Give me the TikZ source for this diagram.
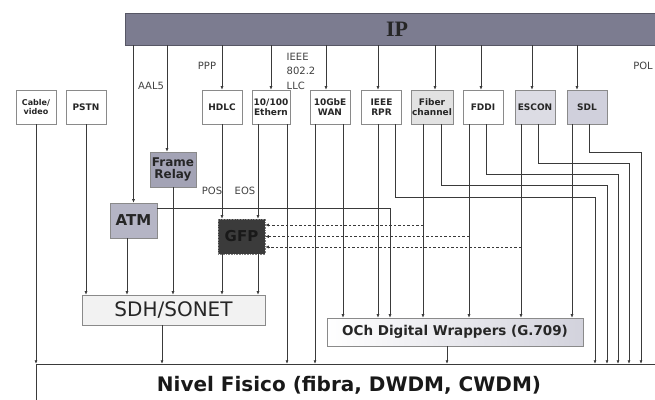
\documentclass[tikz,border=0pt]{standalone}
\usepackage{fontspec}
\setmainfont{DejaVu Sans}
\newfontfamily\ipfont{Liberation Serif}
\usetikzlibrary{arrows.meta}
\definecolor{ipc}{HTML}{7C7C90}
\definecolor{linec}{HTML}{3A3A3A}
\definecolor{boxc}{HTML}{8A8A8A}
\definecolor{frc}{HTML}{A3A3B5}
\definecolor{atmc}{HTML}{B5B5C5}
\definecolor{gfpc}{HTML}{3B3B3B}
\definecolor{fibc}{HTML}{E2E2E2}
\definecolor{escc}{HTML}{DCDCE4}
\definecolor{sdlc}{HTML}{D0D0DC}
\definecolor{sdhc}{HTML}{F2F2F2}
\definecolor{ochc}{HTML}{D2D2DC}
\tikzset{
  link/.style={draw=linec, line width=0.6pt},
  arr/.style={link, -{Latex[length=3.5pt,width=3pt]}},
  dsh/.style={arr, dash pattern=on 2.5pt off 2pt},
  blk/.style={draw=boxc, line width=0.6pt, fill=white, minimum width=40pt, minimum height=34pt, inner sep=1pt, align=center, text=black!85, font=\bfseries\fontsize{9}{10.5}\selectfont},
  lbl/.style={inner sep=0pt, text=black!75, font=\fontsize{10}{11}\selectfont},
}

\begin{document}
\begin{tikzpicture}[x=1pt,y=-1pt]
\useasboundingbox (0,0) rectangle (655,399);
\node[fill=ipc, draw=ipc!70!black, line width=0.6pt, minimum width=530pt, minimum height=32pt, text=black!85, font=\ipfont\bfseries\fontsize{22}{24}\selectfont] (ip) at (390,29) {\hspace*{14pt}IP};
\node[blk, font=\bfseries\fontsize{8}{9.5}\selectfont] (cab) at (36,107) {Cable/\\video};
\node[blk] (pstn) at (86,107) {PSTN};
\node[blk] (hdlc) at (222,107) {HDLC};
\node[blk, minimum width=38pt] (eth) at (271,107) {10/100\\Ethern};
\node[blk] (wan) at (330,107) {10GbE\\WAN};
\node[blk] (rpr) at (381.5,107) {IEEE\\RPR};
\node[blk, fill=fibc] (fib) at (432,107) {Fiber\\channel};
\node[blk] (fddi) at (483,107) {FDDI};
\node[blk, fill=escc] (escon) at (535,107) {ESCON};
\node[blk, fill=sdlc] (sdl) at (587,107) {SDL};
\node[blk, fill=frc, minimum width=46pt, minimum height=35pt, font=\bfseries\fontsize{12}{12.5}\selectfont] (fr) at (173,169.5) {Frame\\Relay};
\node[blk, fill=atmc, minimum width=47pt, minimum height=35pt, font=\bfseries\fontsize{15}{16}\selectfont] (atm) at (133.5,220.5) {ATM};
\node[blk, fill=gfpc, draw=gray, densely dotted, minimum width=47pt, minimum height=35pt, text=black!90, font=\bfseries\fontsize{15}{16}\selectfont] (gfp) at (241.5,236.5) {GFP};
\node[blk, fill=sdhc, minimum width=183pt, minimum height=30pt, font=\fontsize{20}{22}\selectfont] (sdh) at (173.5,310) {SDH/SONET};
\node[blk, left color=white, right color=ochc, minimum width=256pt, minimum height=28pt, font=\bfseries\fontsize{13.5}{15}\selectfont] (och) at (455,332) {OCh Digital Wrappers (G.709)};
\node[minimum width=626pt, minimum height=42pt, inner sep=0pt, text=black!90, font=\bfseries\fontsize{20}{22}\selectfont] (fis) at (349,385) {Nivel Fisico (fibra, DWDM, CWDM)};
\draw[link] (fis.south west) |- (fis.north east);

\node[lbl] (aal) at (151,86) {AAL5};
\node[lbl] (ppp) at (207,66) {PPP};
\node[lbl, align=left, font=\fontsize{10}{14.5}\selectfont] (llc) at (301,71) {IEEE\\802.2\\LLC};
\node[lbl] (pol) at (643,66) {POL};
\node[lbl] (pos) at (212,191) {POS};
\node[lbl] (eos) at (245,191) {EOS};

\coordinate (bend1) at (595,197);
\coordinate (bend2) at (607,185);
\coordinate (bend3) at (618,174);
\coordinate (bend4) at (629,163);
\coordinate (bend5) at (641,152);

\draw[arr] (atm.north |- ip.south) -- (atm.north);
\draw[arr] ([xshift=-6pt]fr.north |- ip.south) -- ([xshift=-6pt]fr.north);
\draw[arr] (hdlc.north |- ip.south) -- (hdlc.north);
\draw[arr] (eth.north |- ip.south) -- (eth.north);
\draw[arr] ([xshift=-4pt]wan.north |- ip.south) -- ([xshift=-4pt]wan.north);
\draw[arr] ([xshift=-3.5pt]rpr.north |- ip.south) -- ([xshift=-3.5pt]rpr.north);
\draw[arr] ([xshift=3pt]fib.north |- ip.south) -- ([xshift=3pt]fib.north);
\draw[arr] ([xshift=-2pt]fddi.north |- ip.south) -- ([xshift=-2pt]fddi.north);
\draw[arr] ([xshift=-3pt]escon.north |- ip.south) -- ([xshift=-3pt]escon.north);
\draw[arr] ([xshift=-10pt]sdl.north |- ip.south) -- ([xshift=-10pt]sdl.north);

\draw[arr] (cab) -- (cab |- fis.north);
\draw[arr] (pstn) -- (pstn |- sdh.north);
\draw[arr] ([xshift=-6.5pt]atm.south) -- ([xshift=-6.5pt]atm.south |- sdh.north);
\draw[arr] (fr) -- (fr |- sdh.north);
\draw[arr] (hdlc) -- (hdlc |- gfp.north);
\draw[arr] ([xshift=-13pt]eth.south) -- ([xshift=-13pt]eth.south |- gfp.north);
\draw[arr] ([xshift=16pt]eth.south) -- ([xshift=16pt]eth.south |- fis.north);
\draw[arr] (hdlc |- gfp.south) -- (hdlc |- sdh.north);
\draw[arr] ([xshift=-13pt]eth.south |- gfp.south) -- ([xshift=-13pt]eth.south |- sdh.north);
\draw[arr] ([xshift=-11.5pt]sdh.south) -- ([xshift=-11.5pt]sdh.south |- fis.north);
\draw[arr] ([yshift=12.5pt]atm.east) -| ([xshift=8.5pt]rpr.south |- och.north);

\draw[arr] ([xshift=-15pt]wan.south) -- ([xshift=-15pt]wan.south |- fis.north);
\draw[arr] ([xshift=13pt]wan.south) -- ([xshift=13pt]wan.south |- och.north);
\draw[arr] ([xshift=-3.5pt]rpr.south) -- ([xshift=-3.5pt]rpr.south |- och.north);
\draw[arr] ([xshift=13.5pt]rpr.south) |- (bend1) -- (bend1 |- fis.north);
\draw[arr] ([xshift=-9pt]fib.south) -- ([xshift=-9pt]fib.south |- och.north);
\draw[arr] ([xshift=9pt]fib.south) |- (bend2) -- (bend2 |- fis.north);
\draw[arr] ([xshift=-14pt]fddi.south) -- ([xshift=-14pt]fddi.south |- och.north);
\draw[arr] ([xshift=3pt]fddi.south) |- (bend3) -- (bend3 |- fis.north);
\draw[arr] ([xshift=-14pt]escon.south) -- ([xshift=-14pt]escon.south |- och.north);
\draw[arr] ([xshift=3pt]escon.south) |- (bend4) -- (bend4 |- fis.north);
\draw[arr] ([xshift=-15pt]sdl.south) -- ([xshift=-15pt]sdl.south |- och.north);
\draw[arr] ([xshift=2pt]sdl.south) |- (bend5) -- (bend5 |- fis.north);
\draw[arr] ([xshift=-8pt]och.south) -- ([xshift=-8pt]och.south |- fis.north);

\draw[dsh] ([xshift=-9pt,yshift=11.5pt]fib.south |- gfp.east) -- ([yshift=11.5pt]gfp.east);
\draw[dsh] ([xshift=-14pt]fddi.south |- gfp.east) -- (gfp.east);
\draw[dsh] ([xshift=-14pt,yshift=-10.5pt]escon.south |- gfp.east) -- ([yshift=-10.5pt]gfp.east);
\end{tikzpicture}
\end{document}
